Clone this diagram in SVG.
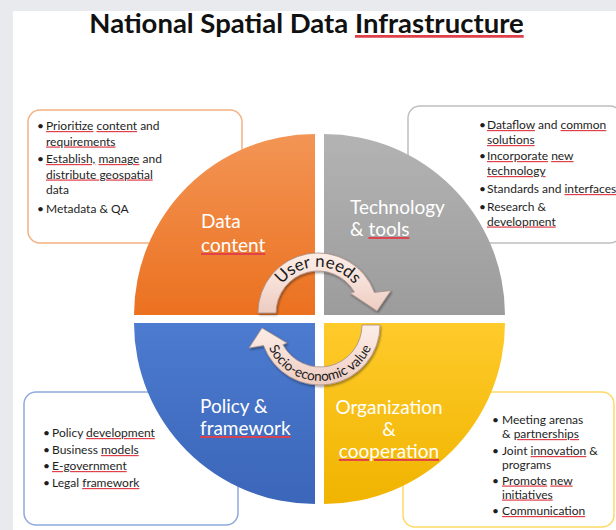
<svg xmlns="http://www.w3.org/2000/svg" width="616" height="530" viewBox="0 0 616 530">
<defs>
<style>
.bx{font-family:Lato,"Liberation Sans",sans-serif;font-size:12px;fill:#1e1e1e}
.ql{font-family:Lato,"Liberation Sans",sans-serif;font-size:19px;fill:#ffffff}
.title{font-family:Lato,"Liberation Sans",sans-serif;font-size:27.5px;font-weight:bold;fill:#111}
.sq{text-decoration:underline;text-decoration-thickness:1px;fill:#e0404a}
.k{fill:#1e1e1e}
.w{fill:#ffffff}
.arr{stroke:#a8908a;stroke-width:0.8;filter:url(#sh)}
.at{font-family:Lato,"Liberation Sans",sans-serif;fill:#1a1a1a}
.box{fill:#ffffff;stroke-width:1.5}
</style>
<linearGradient id="gOr" x1="0" y1="0" x2="0" y2="1"><stop offset="0" stop-color="#F39555"/><stop offset="1" stop-color="#EB7120"/></linearGradient>
<linearGradient id="gGr" x1="0" y1="0" x2="0" y2="1"><stop offset="0" stop-color="#B3B3B3"/><stop offset="1" stop-color="#9C9C9C"/></linearGradient>
<linearGradient id="gBl" x1="0" y1="0" x2="0" y2="1"><stop offset="0" stop-color="#4C7BCF"/><stop offset="1" stop-color="#3B66B9"/></linearGradient>
<linearGradient id="gYe" x1="0" y1="0" x2="0" y2="1"><stop offset="0" stop-color="#FFCB2B"/><stop offset="1" stop-color="#F0B400"/></linearGradient>
<linearGradient id="gAr" x1="0" y1="0" x2="0" y2="1"><stop offset="0" stop-color="#FCEDE7"/><stop offset="0.5" stop-color="#F6DFD7"/><stop offset="1" stop-color="#EDCBC0"/></linearGradient>
<filter id="sh" x="-20%" y="-20%" width="140%" height="140%"><feDropShadow dx="1" dy="1.5" stdDeviation="1.2" flood-color="#000" flood-opacity="0.4"/></filter>
<path id="tpU" d="M272,313 A46,46 0 0 1 364,313"/>
<path id="tpL" d="M264,325 A56,56 0 0 0 376,325"/>
</defs>

<rect x="0" y="0" width="616" height="530" fill="#E9EAEE"/>
<rect x="13" y="11" width="603" height="519" fill="#ffffff"/>

<text class="title" x="306.5" y="33" text-anchor="middle">National Spatial Data <tspan class="sq"><tspan fill="#111">Infrastructure</tspan></tspan></text>

<g id="box-data-content">
<rect class="box" x="28" y="110" width="214" height="133" rx="12" stroke="#F4B183"/>
<text class="bx" x="37" y="130">•</text><text class="bx" x="46" y="130"><tspan class="sq"><tspan class="k">Prioritize</tspan></tspan> <tspan class="sq"><tspan class="k">content</tspan></tspan> and</text>
<text class="bx" x="46" y="145.5"><tspan class="sq"><tspan class="k">requirements</tspan></tspan></text>
<text class="bx" x="37" y="163">•</text><text class="bx" x="46" y="163"><tspan class="sq"><tspan class="k">Establish,</tspan></tspan> <tspan class="sq"><tspan class="k">manage</tspan></tspan> and</text>
<text class="bx" x="46" y="178.5"><tspan class="sq"><tspan class="k">distribute geospatial</tspan></tspan></text>
<text class="bx" x="46" y="194">data</text>
<text class="bx" x="37" y="212.5">•</text><text class="bx" x="46" y="212.5">Metadata &amp; QA</text>
</g>

<g id="box-technology">
<rect class="box" x="408" y="106" width="214" height="137" rx="12" stroke="#BFBFBF"/>
<text class="bx" x="479" y="129">•</text><text class="bx" x="487" y="129"><tspan class="sq"><tspan class="k">Dataflow</tspan></tspan> and <tspan class="sq"><tspan class="k">common</tspan></tspan></text>
<text class="bx" x="487" y="144"><tspan class="sq"><tspan class="k">solutions</tspan></tspan></text>
<text class="bx" x="479" y="160">•</text><text class="bx" x="487" y="160"><tspan class="sq"><tspan class="k">Incorporate</tspan></tspan> <tspan class="sq"><tspan class="k">new</tspan></tspan></text>
<text class="bx" x="487" y="175"><tspan class="sq"><tspan class="k">technology</tspan></tspan></text>
<text class="bx" x="479" y="193">•</text><text class="bx" x="487" y="193">Standards and <tspan class="sq"><tspan class="k">interfaces</tspan></tspan></text>
<text class="bx" x="479" y="210.5">•</text><text class="bx" x="487" y="210.5">Research &amp;</text>
<text class="bx" x="487" y="225.5"><tspan class="sq"><tspan class="k">development</tspan></tspan></text>
</g>

<g id="box-policy">
<rect class="box" x="24" y="392" width="214" height="133" rx="12" stroke="#8FAADC"/>
<text class="bx" x="43" y="437">•</text><text class="bx" x="52" y="437">Policy <tspan class="sq"><tspan class="k">development</tspan></tspan></text>
<text class="bx" x="43" y="454">•</text><text class="bx" x="52" y="454">Business <tspan class="sq"><tspan class="k">models</tspan></tspan></text>
<text class="bx" x="43" y="470">•</text><text class="bx" x="52" y="470"><tspan class="sq"><tspan class="k">E-government</tspan></tspan></text>
<text class="bx" x="43" y="487">•</text><text class="bx" x="52" y="487">Legal <tspan class="sq"><tspan class="k">framework</tspan></tspan></text>
</g>

<g id="box-organization">
<rect class="box" x="403" y="392" width="211" height="135" rx="12" stroke="#FFD966"/>
<text class="bx" x="492" y="424">•</text><text class="bx" x="502" y="424">Meeting arenas</text>
<text class="bx" x="502" y="438">&amp; <tspan class="sq"><tspan class="k">partnerships</tspan></tspan></text>
<text class="bx" x="492" y="455">•</text><text class="bx" x="502" y="455">Joint <tspan class="sq"><tspan class="k">innovation</tspan></tspan> &amp;</text>
<text class="bx" x="502" y="468.5">programs</text>
<text class="bx" x="492" y="484.5">•</text><text class="bx" x="502" y="484.5"><tspan class="sq"><tspan class="k">Promote</tspan></tspan> <tspan class="sq"><tspan class="k">new</tspan></tspan></text>
<text class="bx" x="502" y="498.5"><tspan class="sq"><tspan class="k">initiatives</tspan></tspan></text>
<text class="bx" x="492" y="515">•</text><text class="bx" x="502" y="515"><tspan class="sq"><tspan class="k">Communication</tspan></tspan></text>
</g>

<g id="q-data-content">
<path d="M315,315 L134,315 A181,181 0 0 1 315,134 Z" fill="url(#gOr)"/>
<text class="ql" x="201" y="228">Data</text>
<text class="ql" x="201" y="252"><tspan class="sq"><tspan class="w">content</tspan></tspan></text>
</g>
<g id="q-technology">
<path d="M324,315 L324,134 A181,181 0 0 1 505,315 Z" fill="url(#gGr)"/>
<text class="ql" x="350" y="214">Technology</text>
<text class="ql" x="350" y="236">&amp; <tspan class="sq"><tspan class="w">tools</tspan></tspan></text>
</g>
<g id="q-policy">
<path d="M315,323 L315,504 A181,181 0 0 1 134,323 Z" fill="url(#gBl)"/>
<text class="ql" x="200" y="413">Policy &amp;</text>
<text class="ql" x="200" y="435"><tspan class="sq"><tspan class="w">framework</tspan></tspan></text>
</g>
<g id="q-organization">
<path d="M324,323 L505,323 A181,181 0 0 1 324,504 Z" fill="url(#gYe)"/>
<text class="ql" x="389" y="414" text-anchor="middle">Organization</text>
<text class="ql" x="389" y="436" text-anchor="middle">&amp;</text>
<text class="ql" x="389" y="458" text-anchor="middle"><tspan class="sq"><tspan class="w">cooperation</tspan></tspan></text>
</g>

<g id="connectors">
<g id="arrow-user-needs">
<path class="arr" fill="url(#gAr)" d="M258,313 A60,60 0 0 1 374.4,292.5 L391,290.5 L377,311 L350,293 L354.4,292 A42,42 0 0 0 276,313 Z"/>
<text class="at" font-size="17"><textPath href="#tpU" startOffset="50%" text-anchor="middle">User needs</textPath></text>
</g>
<g id="arrow-socio-economic">
<path class="arr" fill="url(#gAr)" d="M380,325 A60,60 0 0 1 263.6,345.5 L249,348 L262,328 L287,343 L282.9,344.7 A42,42 0 0 0 362,325 Z"/>
<text class="at" font-size="13.5"><textPath href="#tpL" startOffset="50%" text-anchor="middle">Socio-economic value</textPath></text>
</g>
</g>
</svg>
